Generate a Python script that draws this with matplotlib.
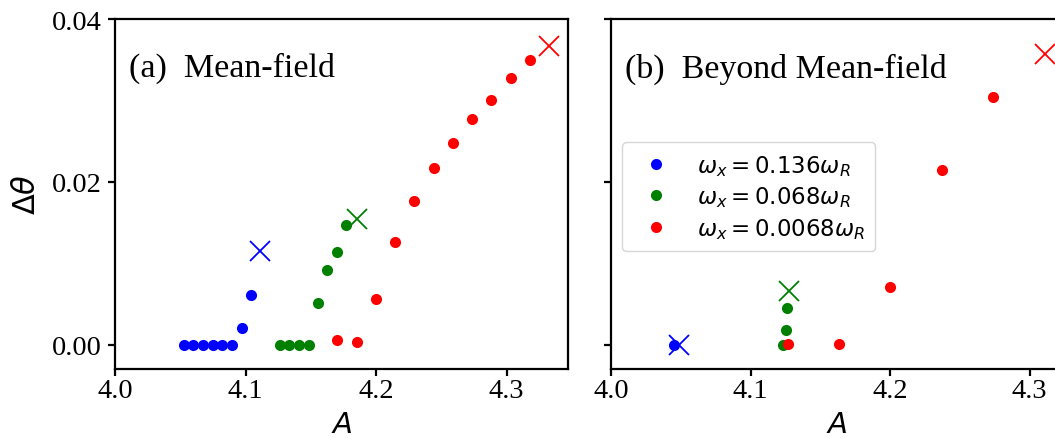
import matplotlib
matplotlib.use("Agg")
import matplotlib.pyplot as plt

# ---------------- data ----------------
# (a) Mean-field
mf_blue_A = [4.0526, 4.0600, 4.0674, 4.0749, 4.0823, 4.0897, 4.0969, 4.1040]
mf_blue_d = [0.0, 0.0, 0.0, 0.0, 0.0, 0.0, 0.00202, 0.00615]
mf_blue_xA, mf_blue_xd = [4.1114], [0.01152]

mf_green_A = [4.1262, 4.1336, 4.1410, 4.1484, 4.1556, 4.1627, 4.1701, 4.1773]
mf_green_d = [0.0, 0.0, 0.0, 0.0, 0.00509, 0.00922, 0.01136, 0.01475]
mf_green_xA, mf_green_xd = [4.1850], [0.01537]

mf_red_A = [4.1701, 4.1850, 4.1998, 4.2146, 4.2294, 4.2440, 4.2588,
            4.2736, 4.2884, 4.3032, 4.3178]
mf_red_d = [0.00061, 0.00033, 0.00565, 0.01266, 0.01763, 0.02168, 0.02471,
            0.02766, 0.03004, 0.03278, 0.03500]
mf_red_xA, mf_red_xd = [4.3326], [0.03672]

# (b) Beyond Mean-field
bmf_blue_A, bmf_blue_d = [4.0454], [0.0]
bmf_blue_xA, bmf_blue_xd = [4.0488], [0.0]

bmf_green_A = [4.1234, 4.1251, 4.1265]
bmf_green_d = [0.0, 0.0018, 0.00447]
bmf_green_xA, bmf_green_xd = [4.1279], [0.0066]

bmf_red_A = [4.1267, 4.1633, 4.2001, 4.2372, 4.2740]
bmf_red_d = [0.0001, 0.0001, 0.00709, 0.02148, 0.03037]
bmf_red_xA, bmf_red_xd = [4.3108], [0.03573]

legend_labels = [r'$\omega_x = 0.136\omega_R$',
                 r'$\omega_x = 0.068\omega_R$',
                 r'$\omega_x = 0.0068\omega_R$']
colors = ['blue', 'green', 'red']
xticks = [4.0, 4.1, 4.2, 4.3]
yticks = [0.00, 0.02, 0.04]
yticklabels = ['0.00', '0.02', '0.04']

# ---------------- figure ----------------
W, H = 1055, 439
fig = plt.figure(figsize=(W / 100, H / 100), dpi=100)

serif = ['Liberation Serif', 'DejaVu Serif']

ax1 = fig.add_axes([115 / W, 1 - 370 / H, 453 / W, 350 / H])
ax2 = fig.add_axes([611 / W, 1 - 370 / H, 452 / W, 350 / H])

ms_dot = 8
ms_x = 14

def draw(ax, series):
    for (A, d, xA, xd), c, lab in zip(series, colors, legend_labels):
        ax.plot(A, d, 'o', color=c, ms=ms_dot, mec='none', label=lab)
        ax.plot(xA, xd, 'x', color=c, ms=ms_x, mew=1.3)

draw(ax1, [(mf_blue_A, mf_blue_d, mf_blue_xA, mf_blue_xd),
           (mf_green_A, mf_green_d, mf_green_xA, mf_green_xd),
           (mf_red_A, mf_red_d, mf_red_xA, mf_red_xd)])
draw(ax2, [(bmf_blue_A, bmf_blue_d, bmf_blue_xA, bmf_blue_xd),
           (bmf_green_A, bmf_green_d, bmf_green_xA, bmf_green_xd),
           (bmf_red_A, bmf_red_d, bmf_red_xA, bmf_red_xd)])

ax1.set_xlim(4.0, 4.347)
ax2.set_xlim(4.0, 4.324)
for ax in (ax1, ax2):
    ax.set_ylim(-0.003, 0.04)
    ax.set_xticks(xticks)
    ax.set_xticklabels([f'{t:.1f}' for t in xticks], fontfamily=serif, fontsize=20.5)
    ax.set_yticks(yticks)
    for s in ax.spines.values():
        s.set_linewidth(1.6)
    ax.tick_params(width=1.6, length=5)
    ax.tick_params(axis='x', pad=1.5)
    ax.tick_params(axis='y', pad=4.5)
    ax.set_xlabel(r'$A$', fontsize=21, labelpad=5)

ax1.set_yticklabels(yticklabels, fontfamily=serif, fontsize=20.5)
ax2.set_yticklabels([])
ax1.set_ylabel(r'$\Delta\theta$', fontsize=22, labelpad=8)

ax1.text(0.032, 0.838, '(a)  Mean-field', transform=ax1.transAxes,
         fontfamily=serif, fontsize=24.5, va='baseline', ha='left')
ax2.text(0.031, 0.836, '(b)  Beyond Mean-field', transform=ax2.transAxes,
         fontfamily=serif, fontsize=24.5, va='baseline', ha='left')

ax2.legend(loc='upper left', bbox_to_anchor=(0.025, 0.6477),
           borderaxespad=0, fontsize=16.5, numpoints=1,
           labelspacing=0.3, borderpad=0.45)

fig.savefig('out.png', dpi=100)
